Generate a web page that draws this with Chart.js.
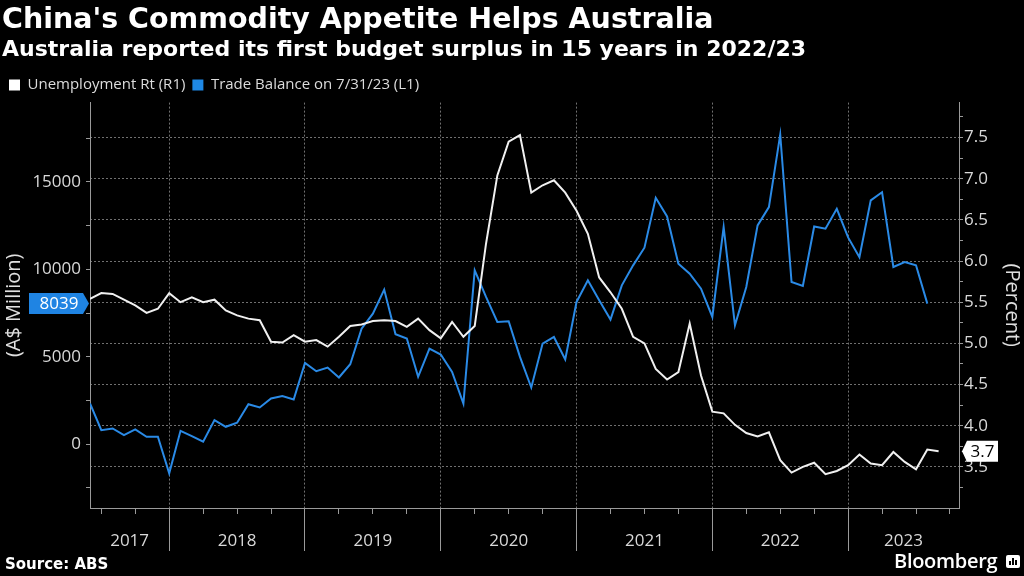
<!DOCTYPE html>
<html>
<head>
<meta charset="utf-8">
<script src="https://cdn.jsdelivr.net/npm/chart.js@4.4.1/dist/chart.umd.min.js"></script>
<style>
  html, body { margin: 0; padding: 0; background: #000; }
  #wrap { position: relative; width: 1024px; height: 576px; overflow: hidden; background: #000; }
  #c { position: absolute; left: 0; top: 0; }
  .source { position: absolute; left: 5px; top: 554px; font: bold 15px "DejaVu Sans", sans-serif; color: #fff; line-height: 20px; }
  .bbg { position: absolute; left: 894px; top: 549px; font: 600 20px "Open Sans", sans-serif; color: #fff; line-height: 24px; letter-spacing: -0.3px; }
  .icon { position: absolute; left: 1006px; top: 555px; width: 14px; height: 13px; background: #fff; border-radius: 2px; }
  .icon i { position: absolute; bottom: 3px; width: 2px; background: #000; }
</style>
</head>
<body>
<div id="wrap">
  <canvas id="c" width="1024" height="576"></canvas>
  <div class="source">Source: ABS</div>
  <div class="bbg">Bloomberg</div>
  <div class="icon"><i style="left:3px;height:4px"></i><i style="left:6px;height:7px"></i><i style="left:9px;height:5px"></i></div>
</div>
<script>
// ---------------- DATA ----------------
const months = [
  '2017-05','2017-06','2017-07','2017-08','2017-09','2017-10','2017-11','2017-12',
  '2018-01','2018-02','2018-03','2018-04','2018-05','2018-06','2018-07','2018-08','2018-09','2018-10','2018-11','2018-12',
  '2019-01','2019-02','2019-03','2019-04','2019-05','2019-06','2019-07','2019-08','2019-09','2019-10','2019-11','2019-12',
  '2020-01','2020-02','2020-03','2020-04','2020-05','2020-06','2020-07','2020-08','2020-09','2020-10','2020-11','2020-12',
  '2021-01','2021-02','2021-03','2021-04','2021-05','2021-06','2021-07','2021-08','2021-09','2021-10','2021-11','2021-12',
  '2022-01','2022-02','2022-03','2022-04','2022-05','2022-06','2022-07','2022-08','2022-09','2022-10','2022-11','2022-12',
  '2023-01','2023-02','2023-03','2023-04','2023-05','2023-06','2023-07','2023-08'
];

// Unemployment rate, percent (right axis)
const unemployment = [
  5.54, 5.61, 5.60, 5.53, 5.46, 5.37, 5.42, 5.61,
  5.50, 5.56, 5.50, 5.53, 5.40, 5.34, 5.30, 5.28, 5.02, 5.01, 5.10, 5.02,
  5.04, 4.96, 5.08, 5.21, 5.23, 5.27, 5.28, 5.27, 5.20, 5.30, 5.16, 5.06,
  5.26, 5.08, 5.21, 6.21, 7.04, 7.45, 7.53, 6.83, 6.92, 6.98, 6.83, 6.61,
  6.33, 5.80, 5.62, 5.42, 5.08, 5.00, 4.69, 4.56, 4.65, 5.24, 4.61, 4.17,
  4.15, 4.01, 3.91, 3.87, 3.92, 3.58, 3.43, 3.50, 3.55, 3.41, 3.45, 3.52,
  3.65, 3.54, 3.52, 3.68, 3.56, 3.47, 3.71, 3.69
];

// Trade balance, A$ million (left axis)
const tradeBalance = [
  2325, 800, 895, 515, 840, 420, 420, -1675,
  760, 460, 135, 1370, 990, 1220, 2285, 2095, 2610, 2745, 2550, 4650,
  4170, 4380, 3810, 4570, 6610, 7465, 8840, 6285, 6040, 3850, 5465, 5125,
  4135, 2325, 9940, 8420, 6990, 7030, 4990, 3240, 5750, 6130, 4840, 8135,
  9370, 8230, 7125, 9085, 10230, 11240, 14095, 13030, 10325, 9750, 8895, 7275,
  12420, 6800, 8990, 12515, 13560, 17715, 9275, 9050, 12455, 12325, 13465, 11830,
  10700, 13945, 14415, 10135, 10420, 10230, 8039
];

const yearLabels = ['2017', '2018', '2019', '2020', '2021', '2022', '2023'];
const leftTickValues = [-2500, 0, 2500, 5000, 7500, 10000, 12500, 15000, 17500];
const rightTickValues = [3.25, 3.5, 3.75, 4.0, 4.25, 4.5, 4.75, 5.0, 5.25, 5.5, 5.75, 6.0, 6.25, 6.5, 6.75, 7.0, 7.25, 7.5, 7.75];

// ---------------- STYLE ----------------
const FONT = '"Open Sans", sans-serif';
const HEAD_FONT = '"DejaVu Sans", sans-serif';
const WHITE_LINE = '#f0f0f0';
const BLUE_LINE = '#2a8ae6';
const BLUE_TAG = '#1f84e3';
const AXIS = '#9a9a9a';
const GRID = 'rgba(150,150,150,0.75)';
const TICK_TEXT = '#d9d9d9';
const X_MAX = 76.8;

Chart.defaults.font.family = FONT;

// ---------- x axis tick layout (from months) ----------
const boundaries = months.map((m, i) => m.endsWith('-12') ? i : null).filter(v => v !== null);
const boundarySet = new Set(boundaries);
const quarterTicks = [];
const firstQ = months.findIndex(m => ['03','06','09','12'].includes(m.slice(5)));
for (let i = firstQ; i <= X_MAX; i += 3) quarterTicks.push(i);
const quarterSet = new Set(quarterTicks);
const labelMap = new Map();
yearLabels.forEach((yl, k) => {
  const startIdx = k === 0 ? 0 : months.indexOf((+yl - 1) + '-12');
  const endIdx = months.indexOf(yl + '-12');
  const end = endIdx >= 0 ? endIdx : X_MAX;
  labelMap.set((startIdx + end) / 2, yl);
});
const xTickValues = Array.from(new Set([...quarterTicks, ...labelMap.keys()])).sort((a, b) => a - b);

const isHalf = v => Math.abs(v * 2 - Math.round(v * 2)) < 1e-9;

// ---------- last value tags ----------
const tagPlugin = {
  id: 'lastValueTags',
  afterDraw(chart) {
    const { ctx, chartArea, scales } = chart;
    const tb = tradeBalance[tradeBalance.length - 1];
    const ur = unemployment[unemployment.length - 1];
    const yl = scales.y.getPixelForValue(tb);
    const yr = scales.y1.getPixelForValue(ur);
    const h = 21;
    ctx.save();
    ctx.font = '17px ' + FONT;
    ctx.textAlign = 'center';
    ctx.textBaseline = 'middle';
    // left tag (blue)
    let tip = chartArea.left - 1, rr = tip - 6, rl = rr - 54;
    ctx.fillStyle = BLUE_TAG;
    ctx.beginPath();
    ctx.moveTo(rl, yl - h / 2); ctx.lineTo(rr, yl - h / 2); ctx.lineTo(tip, yl);
    ctx.lineTo(rr, yl + h / 2); ctx.lineTo(rl, yl + h / 2); ctx.closePath(); ctx.fill();
    ctx.fillStyle = '#ffffff';
    ctx.fillText(String(tb), (rl + rr) / 2 + 3, yl + 1);
    // right tag (white)
    tip = chartArea.right + 3; const l2 = tip + 5, r2 = l2 + 31;
    ctx.fillStyle = '#ffffff';
    ctx.beginPath();
    ctx.moveTo(tip, yr); ctx.lineTo(l2, yr - h / 2); ctx.lineTo(r2, yr - h / 2);
    ctx.lineTo(r2, yr + h / 2); ctx.lineTo(l2, yr + h / 2); ctx.closePath(); ctx.fill();
    ctx.fillStyle = '#000000';
    ctx.fillText(ur.toFixed(1), (l2 + r2) / 2, yr + 1);
    ctx.restore();
  }
};

new Chart(document.getElementById('c'), {
  type: 'line',
  data: {
    datasets: [
      {
        label: 'Unemployment Rt (R1)',
        yAxisID: 'y1',
        data: unemployment.map((v, i) => ({ x: i, y: v })),
        borderColor: WHITE_LINE,
        backgroundColor: '#ffffff',
        borderWidth: 2,
        pointRadius: 0,
        tension: 0
      },
      {
        label: 'Trade Balance on 7/31/23 (L1)',
        yAxisID: 'y',
        data: tradeBalance.map((v, i) => ({ x: i, y: v })),
        borderColor: BLUE_LINE,
        backgroundColor: '#1e88e5',
        borderWidth: 2,
        pointRadius: 0,
        tension: 0
      }
    ]
  },
  options: {
    responsive: false,
    animation: false,
    devicePixelRatio: 1,
    layout: { padding: { left: 2, right: 0, top: 0, bottom: 23 } },
    plugins: {
      tooltip: { enabled: false },
      title: {
        display: true,
        text: "China's Commodity Appetite Helps Australia",
        align: 'start',
        color: '#ffffff',
        font: { size: 28.5, weight: 'bold', family: HEAD_FONT },
        padding: { top: 3, bottom: 0 }
      },
      subtitle: {
        display: true,
        text: 'Australia reported its first budget surplus in 15 years in 2022/23',
        align: 'start',
        color: '#ffffff',
        font: { size: 22, weight: 'bold', family: HEAD_FONT },
        padding: { top: 0, bottom: 7 }
      },
      legend: {
        display: true,
        position: 'top',
        align: 'start',
        labels: {
          boxWidth: 11,
          boxHeight: 11,
          padding: 7,
          color: '#dcdcdc',
          font: { size: 15, family: FONT },
          generateLabels(chart) {
            const items = Chart.defaults.plugins.legend.labels.generateLabels(chart);
            items.forEach(it => { it.lineWidth = 0; });
            return items;
          }
        }
      }
    },
    scales: {
      x: {
        type: 'linear',
        min: 0,
        max: X_MAX,
        afterBuildTicks(scale) { scale.ticks = xTickValues.map(v => ({ value: v })); },
        afterFit(scale) { scale.height = 45; },
        ticks: {
          autoSkip: false,
          maxRotation: 0,
          padding: -20,
          color: TICK_TEXT,
          font: { size: 17, family: FONT },
          callback: (v) => labelMap.has(v) ? labelMap.get(v) : ''
        },
        grid: {
          drawOnChartArea: true,
          lineWidth: 1,
          tickLength: 43,
          color: (ctx) => (ctx.tick && boundarySet.has(ctx.tick.value)) ? GRID : 'rgba(0,0,0,0)',
          tickColor: (ctx) => (ctx.tick && quarterSet.has(ctx.tick.value)) ? AXIS : 'rgba(0,0,0,0)',
          tickBorderDash: (ctx) => (ctx.tick && boundarySet.has(ctx.tick.value)) ? [] : [5, 200]
        },
        border: { display: true, color: AXIS, width: 1, dash: [2, 2] }
      },
      y: {
        type: 'linear',
        position: 'left',
        min: -3657,
        max: 19543,
        afterBuildTicks(scale) { scale.ticks = leftTickValues.map(v => ({ value: v })); },
        afterFit(scale) { scale.width = 88; },
        ticks: {
          autoSkip: false,
          padding: 5,
          color: TICK_TEXT,
          font: { size: 17, family: FONT },
          callback: (v) => (v % 5000 === 0) ? String(v) : ''
        },
        grid: { drawOnChartArea: false, tickLength: 4, tickColor: AXIS, color: AXIS },
        border: { display: true, color: AXIS, width: 1 },
        title: {
          display: true,
          text: '(A$ Million)',
          color: '#e0e0e0',
          font: { size: 20, family: FONT },
          padding: { top: 0, bottom: 0 }
        }
      },
      y1: {
        type: 'linear',
        position: 'right',
        min: 3.0,
        max: 7.924,
        afterBuildTicks(scale) { scale.ticks = rightTickValues.map(v => ({ value: v })); },
        afterFit(scale) { scale.width = 65; },
        ticks: {
          autoSkip: false,
          padding: 1,
          color: TICK_TEXT,
          font: { size: 17, family: FONT },
          callback: (v) => isHalf(v) ? v.toFixed(1) : ''
        },
        grid: {
          drawOnChartArea: true,
          lineWidth: 1,
          tickLength: 4,
          tickColor: AXIS,
          color: (ctx) => (ctx.tick && isHalf(ctx.tick.value)) ? GRID : 'rgba(0,0,0,0)'
        },
        border: { display: true, color: AXIS, width: 1, dash: [2, 2] },
        title: {
          display: true,
          text: '(Percent)',
          color: '#e0e0e0',
          font: { size: 20, family: FONT },
          padding: { top: 0, bottom: 0 }
        }
      }
    }
  },
  plugins: [tagPlugin]
});
</script>
</body>
</html>
